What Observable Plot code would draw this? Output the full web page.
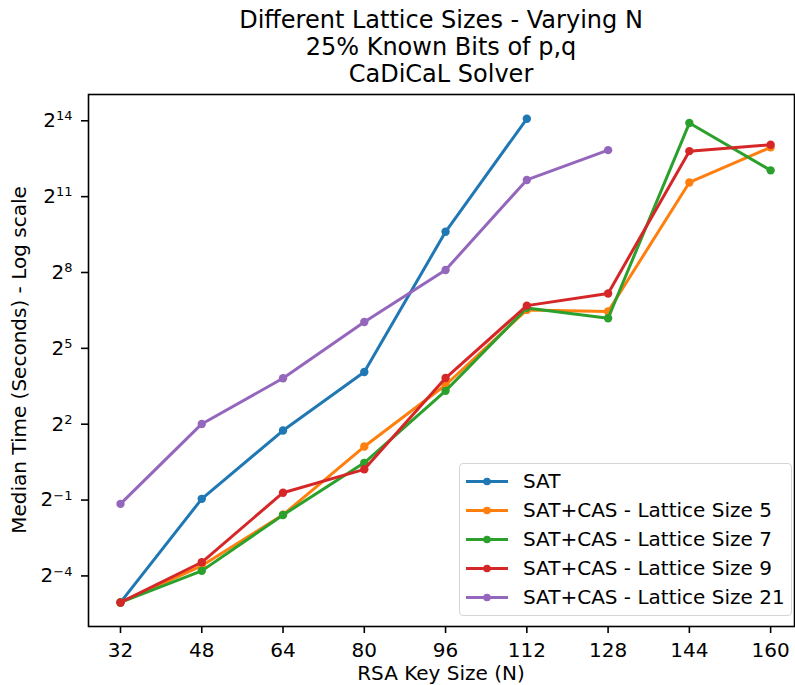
<!DOCTYPE html>
<html><head><meta charset="utf-8">
<script src="https://cdn.jsdelivr.net/npm/d3@7"></script>
<script src="https://cdn.jsdelivr.net/npm/@observablehq/plot@0.6"></script>
<style>
body{margin:0;background:#fff;font-family:"DejaVu Sans",sans-serif;color:#000;}
#wrap{position:relative;width:795px;height:685px;overflow:hidden;}
#title{position:absolute;left:88px;width:706px;top:6.5px;text-align:center;font-size:24px;line-height:27px;white-space:nowrap;}
#chart{position:absolute;left:0;top:88px;}
#xlabel{position:absolute;left:88px;width:706px;top:663px;text-align:center;font-size:20px;line-height:20px;white-space:nowrap;}
#ylabel{position:absolute;width:560px;left:-261.3px;top:349.5px;text-align:center;font-size:20px;line-height:20px;transform:rotate(-90deg);white-space:nowrap;}
#legend{position:absolute;left:459px;top:463px;width:331px;height:151px;border:1px solid #d5d5d5;border-radius:4px;background:rgba(255,255,255,0.8);}
.row{position:absolute;left:0;height:29px;line-height:29px;font-size:20px;white-space:nowrap;}
.row svg{position:absolute;left:6px;top:0;}
.row span{position:absolute;left:63px;}
</style></head><body>
<div id="wrap">
  <div id="title">Different Lattice Sizes - Varying N<br>25% Known Bits of p,q<br>CaDiCaL Solver</div>
  <div id="chart"></div>
  <div id="xlabel">RSA Key Size (N)</div>
  <div id="ylabel">Median Time (Seconds) - Log scale</div>
  <div id="legend"></div>
</div>
<script>
// ---- data (median seconds) ----
const sizes = [32, 48, 64, 80, 96, 112, 128, 144, 160];
const seriesNames = ["SAT", "SAT+CAS - Lattice Size 5", "SAT+CAS - Lattice Size 7", "SAT+CAS - Lattice Size 9", "SAT+CAS - Lattice Size 21"];
const seriesColors = ["#1f77b4", "#ff7f0e", "#2ca02c", "#d62728", "#9467bd"];
const sat    = [0.0294, 0.503, 3.27, 16.3, 760, 16840];
const lat5   = [0.0294, 0.0802, 0.325, 2.11, 11.4, 89.3, 85.6, 2937, 7697];
const lat7   = [0.0294, 0.0698, 0.323, 1.35, 9.71, 94.4, 71.0, 14973, 4096];
const lat9   = [0.0294, 0.0884, 0.595, 1.13, 13.8, 100.4, 140.1, 6937, 8249];
const lat21  = [0.438, 3.92, 13.7, 64.0, 267, 3148, 7132];
const yTickExps = [-4, -1, 2, 5, 8, 11, 14];
const xTicks = sizes;

const allValues = [sat, lat5, lat7, lat9, lat21];
const rows = [];
allValues.forEach((vals, si) => vals.forEach((v, i) => rows.push({series: seriesNames[si], n: sizes[i], t: v})));

const marks = [];
seriesNames.forEach(name => {
  const d = rows.filter(r => r.series === name);
  marks.push(Plot.line(d, {x: "n", y: "t", stroke: "series", strokeWidth: 3, strokeLinejoin: "round", strokeLinecap: "butt"}));
  marks.push(Plot.dot(d, {x: "n", y: "t", fill: "series", r: 4.2}));
});

const chart = Plot.plot({
  width: 795,
  height: 597,
  marginTop: 6,
  marginBottom: 59,
  marginLeft: 88,
  marginRight: 1,
  style: {fontFamily: "DejaVu Sans", fontSize: "20px", color: "#000", background: "transparent", overflow: "visible"},
  x: {domain: [25.7, 164.7]},
  y: {type: "log", base: 2, domain: [Math.pow(2, -6.04), Math.pow(2, 15.0)]},
  color: {domain: seriesNames, range: seriesColors},
  marks: [
    ...marks,
    Plot.axisX({ticks: xTicks, tickSize: 7, tickPadding: 9, strokeWidth: 1.6, label: null, tickFormat: d => String(d)}),
    Plot.axisY({ticks: yTickExps.map(e => Math.pow(2, e)), tickSize: 7, tickPadding: 9, strokeWidth: 1.6, label: null, dy: 1,
      tickFormat: d => "2^" + Math.round(Math.log2(d))}),
    Plot.frame({stroke: "#000", strokeWidth: 1.6})
  ]
});
document.getElementById("chart").appendChild(chart);

// render exponents as superscripts
d3.select(chart).selectAll('g[aria-label="y-axis tick label"] text').each(function() {
  const txt = this.textContent;
  const parts = txt.split("^");
  if (parts.length !== 2) return;
  const el = d3.select(this);
  el.text(null);
  el.append("tspan").text(parts[0]);
  el.append("tspan").attr("font-size", "13px").attr("dy", "-6.7").text(parts[1].replace("-", "\u2212"));
});

// legend
const leg = document.getElementById("legend");
seriesNames.forEach((name, i) => {
  const row = document.createElement("div");
  row.className = "row";
  row.style.top = (2.5 + i * 29) + "px";
  row.style.width = "330px";
  row.innerHTML = `<svg width="42" height="29"><line x1="0" x2="42" y1="14.5" y2="14.5" stroke="${seriesColors[i]}" stroke-width="3"/><circle cx="21" cy="14.5" r="3.8" fill="${seriesColors[i]}"/></svg><span>${name}</span>`;
  leg.appendChild(row);
});
</script>
</body></html>
